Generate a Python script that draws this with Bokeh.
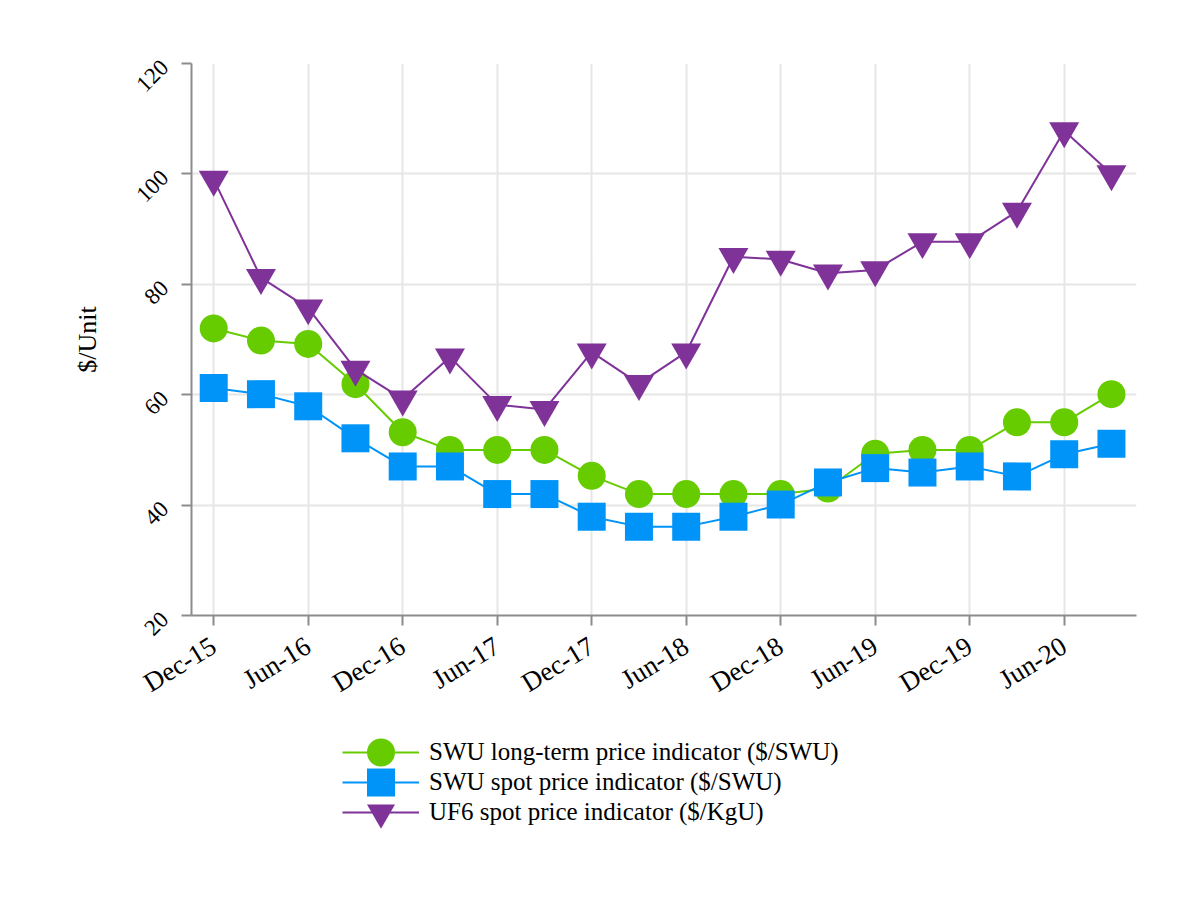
from bokeh.plotting import figure
from bokeh.layouts import column
from bokeh.models import Range1d, FixedTicker, Legend, LegendItem
from bokeh.embed import file_html
from bokeh.resources import INLINE

quarters = ["Dec-15", "Mar-16", "Jun-16", "Sep-16", "Dec-16", "Mar-17", "Jun-17", "Sep-17",
            "Dec-17", "Mar-18", "Jun-18", "Sep-18", "Dec-18", "Mar-19", "Jun-19", "Sep-19",
            "Dec-19", "Mar-20", "Jun-20", "Sep-20"]
swu_long_term = [72.0, 69.8, 69.2, 61.9, 53.2, 50.0, 50.0, 50.0, 45.3, 42.0,
                 42.0, 42.0, 42.0, 43.0, 49.3, 50.0, 50.0, 55.0, 55.0, 60.1]
swu_spot = [61.2, 60.1, 57.9, 52.1, 47.0, 47.0, 42.0, 42.0, 37.9, 36.1,
            36.1, 37.9, 40.1, 44.1, 46.7, 45.9, 47.0, 45.2, 49.2, 51.1]
uf6_spot = [99.0, 81.2, 75.7, 64.6, 59.2, 66.8, 58.2, 57.3, 67.7, 62.0,
            67.7, 85.0, 84.5, 82.0, 82.6, 87.7, 87.7, 93.2, 107.8, 100.0]
y_ticks = [20, 40, 60, 80, 100, 120]
series_names = ["SWU long-term price indicator ($/SWU)",
                "SWU spot price indicator ($/SWU)",
                "UF6 spot price indicator ($/KgU)"]

FONT = "Liberation Serif"
x = list(range(len(quarters)))
x_ticks = x[::2]
colors = ["#66CC00", "#0094F9", "#7F3298"]
markers = ["circle", "square", "inverted_triangle"]
sizes = [28, 28, 30]
series = [swu_long_term, swu_spot, uf6_spot]

# ---------------- main chart ----------------
p = figure(width=1184, height=715, x_range=Range1d(-0.47, 19.53), y_range=Range1d(20, 120),
           output_backend="svg", toolbar_location=None,
           min_border_left=191, min_border_right=48, min_border_top=63, min_border_bottom=100)
p.outline_line_color = None

for ax in (p.xaxis[0], p.yaxis[0]):
    ax.axis_line_color = "#8c8c8c"
    ax.axis_line_width = 2
    ax.major_tick_line_color = "#8c8c8c"
    ax.major_tick_line_width = 2
    ax.major_tick_out = 10
    ax.major_tick_in = 0
    ax.minor_tick_line_color = None
    ax.major_label_text_font = FONT
    ax.major_label_text_color = "#000000"

p.xaxis.ticker = FixedTicker(ticks=x_ticks)
p.xaxis.major_label_overrides = {i: quarters[i] for i in x_ticks}
p.xaxis.major_label_orientation = 0.55
p.xaxis.major_label_text_font_size = "27px"
p.xaxis.major_label_standoff = 18

p.yaxis.ticker = FixedTicker(ticks=y_ticks)
p.yaxis.major_label_orientation = 0.785
p.yaxis.major_label_text_font_size = "23px"
p.yaxis.major_label_standoff = 17
p.yaxis.axis_label = "$/Unit"
p.yaxis.axis_label_text_font = FONT
p.yaxis.axis_label_text_font_style = "normal"
p.yaxis.axis_label_text_font_size = "26px"
p.yaxis.axis_label_text_color = "#000000"
p.yaxis.axis_label_standoff = 24

p.grid.grid_line_color = "#e6e6e6"
p.grid.grid_line_width = 2

for vals, c, m, s in zip(series, colors, markers, sizes):
    p.line(x, vals, line_color=c, line_width=2)
    p.scatter(x, vals, marker=m, size=s, fill_color=c, line_color=None)

# ---------------- legend strip ----------------
lg = figure(width=1184, height=169, x_range=Range1d(1000, 1001), y_range=Range1d(1000, 1001),
            output_backend="svg", toolbar_location=None, x_axis_type=None, y_axis_type=None,
            min_border_left=0, min_border_right=0, min_border_top=0, min_border_bottom=0)
lg.outline_line_color = None
lg.grid.visible = False
legend_y = [97, 67, 37]
for vals, c, m, s, name, vy in zip(series, colors, markers, sizes, series_names, legend_y):
    lr = lg.line(x, vals, line_color=c, line_width=2)
    sr = lg.scatter(x, vals, marker=m, size=s, fill_color=c, line_color=None)
    legend = Legend(items=[LegendItem(label=name, renderers=[lr, sr])], location=(151, vy),
                    glyph_width=77, glyph_height=70, label_standoff=10, padding=0, margin=0,
                    border_line_color=None, background_fill_alpha=0,
                    label_text_font=FONT, label_text_font_size="25px", label_text_color="#000000")
    lg.add_layout(legend, "center")

layout = column(p, lg, spacing=0)
open("out.html", "w").write(file_html(layout, INLINE))
